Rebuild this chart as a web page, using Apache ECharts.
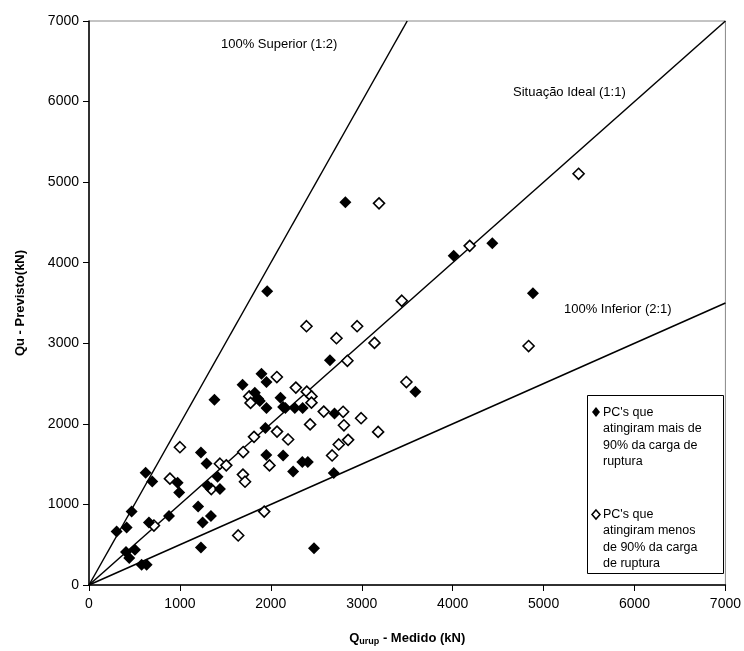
<!DOCTYPE html>
<html><head><meta charset="utf-8">
<script src="https://cdn.jsdelivr.net/npm/echarts@6/dist/echarts.min.js"></script>
<style>html,body{margin:0;padding:0;background:#fff}#c{width:744px;height:651px}</style>
</head><body><div id="c"></div>
<script>
// Filled diamonds: PC's que atingiram mais de 90% da carga de ruptura [Medido, Previsto]
var filledPts = [
 [304,664],[414,713],[469,911],[407,410],[443,334],[505,437],[579,251],[634,251],
 [623,1394],[696,1285],[659,775],[880,857],[975,1268],[992,1148],[1200,973],[1250,775],
 [1231,466],[1231,1645],[1293,1509],[1341,857],[1305,1232],[1414,1344],[1440,1191],[1380,2300],
 [1689,2486],[1897,2622],[1952,2519],[1824,2387],[1861,2313],[1879,2285],[1952,2197],[2106,2325],
 [2135,2210],[2160,2197],[2264,2197],[2350,2197],[1940,1950],[1950,1615],[2135,1607],[2245,1410],
 [2346,1526],[2407,1526],[2692,1390],[2700,2127],[2650,2790],[1960,3645],[2820,4750],[3590,2400],
 [4011,4085],[4436,4242],[4883,3622],[2475,455]
];
// Open diamonds: PC's que atingiram menos de 90% da carga de ruptura
var openPts = [
 [714,738],[890,1320],[1000,1710],[1345,1190],[1440,1505],[1510,1485],[1641,615],[1696,1650],
 [1693,1370],[1716,1282],[1815,1839],[1985,1484],[2068,1904],[2190,1806],[1927,911],[1762,2341],
 [1777,2260],[2066,2581],[2275,2450],[2395,2400],[2447,2341],[2447,2263],[2582,2152],[2795,2150],
 [2993,2070],[2432,1993],[2804,1982],[3180,1900],[2850,1802],[2747,1744],[2674,1608],[2392,3212],
 [2949,3212],[2722,3063],[3140,3005],[2842,2783],[3440,3528],[3491,2519],[3190,4737],[4187,4209],
 [4835,2966],[5385,5104]
];
// Reference lines
var lineSuperior = [[0,0],[3500,7000]];
var lineIdeal = [[0,0],[7000,7000]];
var lineInferior = [[0,0],[7000,3500]];
var axisTicks = [0,1000,2000,3000,4000,5000,6000,7000];

var FONT = '"Liberation Sans", Arial, sans-serif';
var chart = echarts.init(document.getElementById('c'), null, {renderer:'canvas'});
function lineSeries(d){
  return {type:'line', data:d, symbol:'none', silent:true, z:1,
    lineStyle:{color:'#000', width:1.5}, animation:false};
}
function plain(v){ return String(v); }
var option = {
  animation:false,
  backgroundColor:'#fff',
  grid:{left:89, top:21, right:18, bottom:64, show:true, borderColor:'#888', borderWidth:1},
  xAxis:{type:'value', min:axisTicks[0], max:axisTicks[axisTicks.length-1], interval:1000,
    splitLine:{show:false},
    axisLine:{onZero:false, lineStyle:{color:'#000', width:1.5}},
    axisTick:{show:true, inside:false, length:6, lineStyle:{color:'#000'}},
    axisLabel:{color:'#000', fontSize:14, fontFamily:FONT, margin:12, formatter:plain},
    name:'{q|Q}{sub|urup}{q| - Medido (kN)}', nameLocation:'middle', nameGap:46,
    nameTextStyle:{rich:{
      q:{fontSize:13, fontWeight:'bold', color:'#000', fontFamily:FONT},
      sub:{fontSize:9, fontWeight:'bold', color:'#000', fontFamily:FONT, verticalAlign:'bottom', padding:[6,0,0,0]}
    }}
  },
  yAxis:{type:'value', min:axisTicks[0], max:axisTicks[axisTicks.length-1], interval:1000,
    splitLine:{show:false},
    axisLine:{onZero:false, lineStyle:{color:'#000', width:1.5}},
    axisTick:{show:true, inside:false, length:6, lineStyle:{color:'#000'}},
    axisLabel:{color:'#000', fontSize:14, fontFamily:FONT, margin:10, formatter:plain},
    name:'Qu - Previsto(kN)', nameLocation:'middle', nameGap:62,
    nameTextStyle:{fontSize:13, fontWeight:'bold', color:'#000', fontFamily:FONT}
  },
  series:[
    lineSeries(lineSuperior), lineSeries(lineIdeal), lineSeries(lineInferior),
    {type:'scatter', data:openPts, symbol:'diamond', symbolSize:[11,11], z:3,
      itemStyle:{color:'#fff', borderColor:'#000', borderWidth:1.6, opacity:1}},
    {type:'scatter', data:filledPts, symbol:'diamond', symbolSize:[12,12], z:4,
      itemStyle:{color:'#000', borderColor:'#000', borderWidth:0, opacity:1}}
  ],
  graphic:[
    {type:'text', left:221, top:38, style:{text:'100% Superior (1:2)', fontSize:13, fontFamily:FONT, fill:'#000'}},
    {type:'text', left:513, top:86, style:{text:'Situação Ideal (1:1)', fontSize:13, fontFamily:FONT, fill:'#000'}},
    {type:'text', left:564, top:303, style:{text:'100% Inferior (2:1)', fontSize:13, fontFamily:FONT, fill:'#000'}},
    {type:'rect', shape:{x:587.5, y:395.5, width:136, height:178}, style:{fill:'#fff', stroke:'#000', lineWidth:1}, z:10},
    {type:'polygon', shape:{points:[[596,407],[600,412],[596,417],[592,412]]}, style:{fill:'#000'}, z:11},
    {type:'text', x:603, y:404, z:11, style:{text:"PC's que\natingiram mais de\n90% da carga de\nruptura", fontSize:12.5, lineHeight:16.5, fontFamily:FONT, fill:'#000'}},
    {type:'polygon', shape:{points:[[596,510],[600,514.5],[596,519],[592,514.5]]}, style:{fill:'#fff', stroke:'#000', lineWidth:1.5}, z:11},
    {type:'text', x:603, y:506, z:11, style:{text:"PC's que\natingiram menos\nde 90% da carga\nde ruptura", fontSize:12.5, lineHeight:16.5, fontFamily:FONT, fill:'#000'}}
  ]
};
chart.setOption(option);
</script></body></html>
